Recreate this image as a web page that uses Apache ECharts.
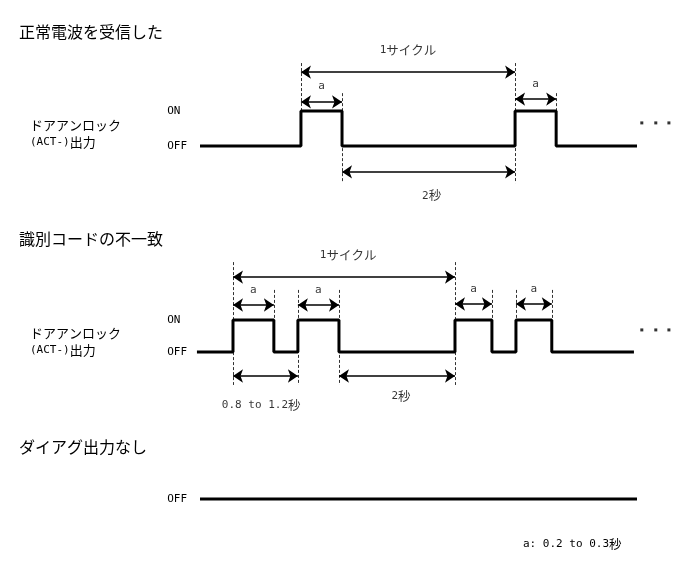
<!DOCTYPE html>
<html>
<head>
<meta charset="UTF-8">
<script src="https://cdn.jsdelivr.net/npm/echarts@6/dist/echarts.min.js"></script>
<title>ダイアグ出力</title>
</head>
<body style="margin:0;background:#fff">
<div id="main" style="width:689px;height:562px;"></div>
<script>
// time is in schematic units, level 0 = OFF, 1 = ON

// panel 1: 正常電波を受信した
var p1Span = [0, 100];
var p1Edges = [23.1, 32.5, 72.1, 81.5];
var p1Arrows = [[23.1, 72.1, 2.11], [23.1, 32.5, 1.26], [72.1, 81.5, 1.34], [32.5, 72.1, -0.74]];
var p1Labels = [[47.6, 2.74, '1サイクル'], [27.8, 1.71, 'a'], [76.8, 1.77, 'a'], [53.0, -1.42, '2秒']];
var p1Dashes = [[23.1, 2.37, 1], [32.5, 1.51, -1.06], [72.1, 2.37, -1.06], [81.5, 1.51, 1]];
var p1Dots = [[101.1, 0.66], [104.3, 0.66], [107.3, 0.66]];

// panel 2: 識別コードの不一致
var p2Span = [-0.7, 99.3];
var p2Edges = [7.55, 16.9, 22.4, 31.8, 58.35, 66.8, 72.3, 80.5];
var p2Arrows = [[7.55, 58.35, 2.34], [7.55, 16.9, 1.47], [22.4, 31.8, 1.47], [58.35, 66.8, 1.5], [72.3, 80.5, 1.5],
                [7.55, 22.4, -0.75], [31.8, 58.35, -0.75]];
var p2Labels = [[33.9, 3.03, '1サイクル'], [12.2, 1.93, 'a'], [27.1, 1.93, 'a'], [62.6, 1.96, 'a'], [76.4, 1.96, 'a'],
                [14.0, -1.66, '0.8 to 1.2秒'], [46.0, -1.38, '2秒']];
var p2Dashes = [[7.55, 2.81, -1.03], [16.9, 1.94, 1], [22.4, 1.94, -1.03], [31.8, 1.94, -1.03],
                [58.35, 2.81, -1.03], [66.8, 1.94, 1], [72.3, 1.94, 1], [80.5, 1.94, 1]];
var p2Dots = [[101.1, 0.69], [104.3, 0.69], [107.3, 0.69]];

// panel 3: ダイアグ出力なし
var p3Span = [0, 100];
var p3Edges = [];

var cjk = '"Noto Sans CJK JP", sans-serif';
var mono = '"DejaVu Sans Mono", monospace';

// half-width text in a narrow mono font, the rest in CJK
function richify(t) {
  return t.split('\n').map(function (line) {
    return line.replace(/([\x20-\x7e]+)|([^\x20-\x7e]+)/g, function (m, a) {
      return a ? '{m|' + m + '}' : '{c|' + m + '}';
    });
  }).join('\n');
}

function wave(span, edges) {
  var pts = [[span[0], 0]], lv = 0;
  edges.forEach(function (e) {
    pts.push([e, lv]);
    lv = 1 - lv;
    pts.push([e, lv]);
  });
  pts.push([span[1], lv]);
  return pts;
}

function panelSeries(i, span, edges, arrows, labels, dashes, dots) {
  var s = [{
    type: 'line', xAxisIndex: i, yAxisIndex: i, data: wave(span, edges),
    symbol: 'none', lineStyle: {color: '#000', width: 3}, animation: false
  }];
  if (dashes) s.push({
    type: 'lines', coordinateSystem: 'cartesian2d', xAxisIndex: i, yAxisIndex: i,
    symbol: 'none', lineStyle: {color: '#333', width: 1, type: [3, 2], opacity: 1},
    data: dashes.map(function (d) { return {coords: [[d[0], d[1]], [d[0], d[2]]]}; }),
    animation: false
  });
  if (arrows) s.push({
    type: 'lines', coordinateSystem: 'cartesian2d', xAxisIndex: i, yAxisIndex: i,
    symbol: ['arrow', 'arrow'], symbolSize: 10,
    lineStyle: {color: '#000', width: 1.6, opacity: 1},
    data: arrows.map(function (a) { return {coords: [[a[0], a[2]], [a[1], a[2]]]}; }),
    animation: false
  });
  if (labels) s.push({
    type: 'scatter', xAxisIndex: i, yAxisIndex: i, symbolSize: 0, data: labels,
    label: {show: true, position: 'inside', color: '#000',
            formatter: function (p) { return richify(p.data[2]); },
            rich: richStyle(12.5)},
    animation: false
  });
  if (dots) s.push({
    type: 'scatter', xAxisIndex: i, yAxisIndex: i, symbol: 'rect', symbolSize: 3,
    itemStyle: {color: '#000'}, data: dots, animation: false
  });
  return s;
}

function richStyle(cjkSize) {
  return {
    m: {fontFamily: mono, fontSize: 11, fontWeight: 'normal', color: '#000', lineHeight: 17},
    c: {fontFamily: cjk, fontSize: cjkSize, fontWeight: 'normal', color: '#000', lineHeight: 17}
  };
}

function yAx(i, min, max, vals) {
  return {
    gridIndex: i, type: 'value', min: min, max: max,
    axisLine: {show: false}, axisTick: {show: false}, splitLine: {show: false},
    axisLabel: {
      customValues: vals, align: 'left', margin: 11, color: '#000', fontSize: 11, fontFamily: mono,
      formatter: function (v) { return v === 1 ? 'ON' : 'OFF'; }
    }
  };
}

function xAx(i) {
  return {gridIndex: i, type: 'value', min: -5, max: 110, show: false};
}

var chart = echarts.init(document.getElementById('main'));
var titleStyle = {color: '#000', fontSize: 16, fontWeight: 'normal', fontFamily: cjk};
var sideStyle = {color: '#000', fontWeight: 'normal', lineHeight: 17, rich: richStyle(13)};

chart.setOption({
  backgroundColor: '#fff',
  title: [
    {text: '正常電波を受信した', left: 14, top: 19, textStyle: titleStyle},
    {text: '識別コードの不一致', left: 14, top: 226, textStyle: titleStyle},
    {text: 'ダイアグ出力なし', left: 14, top: 434, textStyle: titleStyle},
    {text: richify('ドアアンロック\n(ACT-)出力'), left: 25, top: 112, textStyle: sideStyle},
    {text: richify('ドアアンロック\n(ACT-)出力'), left: 25, top: 320, textStyle: sideStyle},
    {text: richify('a: 0.2 to 0.3秒'), left: 518, top: 531, textStyle: {color: '#000', fontWeight: 'normal', rich: richStyle(12.5)}}
  ],
  grid: [
    {left: 178.15, width: 502.55, top: 41, height: 161},
    {left: 178.15, width: 502.55, top: 243.2, height: 172.8},
    {left: 178.15, width: 502.55, top: 479, height: 40}
  ],
  xAxis: [xAx(0), xAx(1), xAx(2)],
  yAxis: [yAx(0, -1.6, 3, [0, 1]), yAx(1, -2, 3.4, [0, 1]), yAx(2, -1, 1, [0])],
  series: [].concat(
    panelSeries(0, p1Span, p1Edges, p1Arrows, p1Labels, p1Dashes, p1Dots),
    panelSeries(1, p2Span, p2Edges, p2Arrows, p2Labels, p2Dashes, p2Dots),
    panelSeries(2, p3Span, p3Edges)
  )
});
</script>
</body>
</html>
